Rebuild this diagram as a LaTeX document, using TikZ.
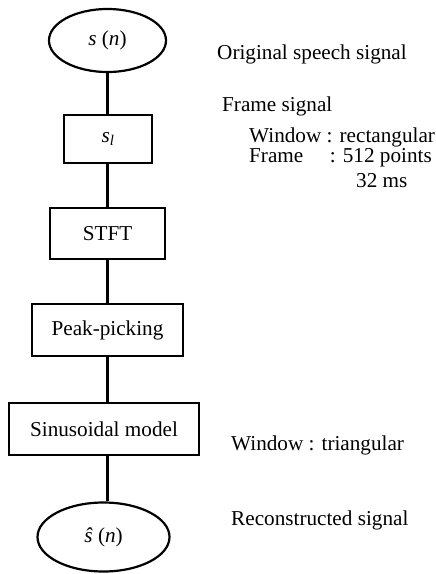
\documentclass[tikz,border=0pt]{standalone}
\usepackage{fontspec}
\setmainfont{Liberation Serif}
\usetikzlibrary{shapes.geometric}
\tikzset{
  flowbox/.style={draw, line width=2.2pt, rectangle, inner sep=0pt, align=center},
  flowoval/.style={draw, line width=2.2pt, ellipse, inner sep=0pt},
  link/.style={line width=2.2pt},
  note/.style={inner sep=0pt, anchor=base west},
}
\begin{document}
\begin{tikzpicture}[x=1pt, y=-1pt, font=\fontsize{21.2}{25}\selectfont]
\useasboundingbox (0,0) rectangle (436,574);
% flow nodes
\node[flowoval, minimum width=117pt, minimum height=63pt] (sn) at (107.5,40.5) {\textit{s} (\textit{n})};
\node[flowbox, minimum width=88pt, minimum height=48pt] (sl) at (108,139) {\textit{s}\textsubscript{\textit{l}}};
\node[flowbox, minimum width=115pt, minimum height=51pt] (stft) at (107.5,233.5) {STFT};
\node[flowbox, minimum width=151pt, minimum height=52pt] (pp) at (107.5,330) {Peak-picking};
\node[flowbox, minimum width=190pt, minimum height=52pt] (sm) at (104,429) {Sinusoidal model};
\node[flowoval, minimum width=132pt, minimum height=69pt] (shat) at (103.5,537) {\textit{ŝ} (\textit{n})};
% connectors
\draw[link] (sn.south) -- (sn.south |- sl.north);
\draw[link] (sn.south |- sl.south) -- (sn.south |- stft.north);
\draw[link] (stft.south) -- (stft.south |- pp.north);
\draw[link] (pp.south) -- (pp.south |- sm.north);
\draw[link] (pp.south |- sm.south) -- (pp.south |- shat.north);
% annotations
\node[note] (t1) at (217,59) {Original speech signal};
\node[note] (t2) at (222,111) {Frame signal};
\node[note] (t3) at (249,142) {Window : rectangular};
\node[note] (t4) at (249,162) {Frame};
\node[inner sep=0pt, anchor=base east] (t5) at (432,162) {: 512 points};
\node[note] (t6) at (356,187) {32 ms};
\node[note] (t7) at (231,450) {Window : triangular};
\node[note] (t8) at (231,525) {Reconstructed signal};
\end{tikzpicture}
\end{document}
